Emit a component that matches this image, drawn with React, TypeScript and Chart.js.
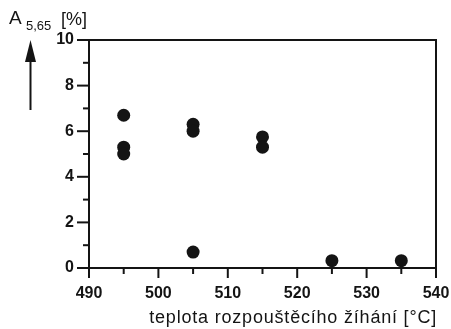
import React, { useEffect, useRef } from "react";
import { Chart, registerables } from "chart.js";

Chart.register(...registerables);

// Solution-annealing temperature [°C]
const temperatures = [495, 495, 495, 505, 505, 505, 515, 515, 525, 535];
// Elongation A5,65 [%]
const elongation = [6.7, 5.3, 5.0, 6.3, 6.0, 0.7, 5.75, 5.3, 0.32, 0.32];

const xTickValues = [490, 500, 510, 520, 530, 540];
const yTickValues = [0, 2, 4, 6, 8, 10];

const FONT = "'Liberation Sans', Arial, Helvetica, sans-serif";
const INK = "#141414";

const framePlugin = {
  id: "frame",
  afterDraw(chart: any) {
    const { ctx, chartArea, scales } = chart;
    const { left, right, top, bottom } = chartArea;
    const xs = scales.x;
    const ys = scales.y;
    ctx.save();
    ctx.strokeStyle = INK;
    ctx.lineWidth = 2;
    ctx.lineCap = "square";
    // box
    ctx.beginPath();
    ctx.moveTo(left, top);
    ctx.lineTo(right, top);
    ctx.lineTo(right, bottom);
    ctx.lineTo(left, bottom);
    ctx.closePath();
    ctx.stroke();
    // y ticks: major every 2, minor every 1
    ctx.lineCap = "butt";
    for (let v = ys.min; v <= ys.max; v += 1) {
      const y = ys.getPixelForValue(v);
      const len = v % 2 === 0 ? 12 : 6;
      ctx.beginPath();
      ctx.moveTo(left - len, y);
      ctx.lineTo(left, y);
      ctx.stroke();
    }
    // x ticks: major every 10, minor every 5
    for (let v = xs.min; v <= xs.max; v += 5) {
      const x = xs.getPixelForValue(v);
      const len = v % 10 === 0 ? 10 : 6;
      ctx.beginPath();
      ctx.moveTo(x, bottom);
      ctx.lineTo(x, bottom + len);
      ctx.stroke();
    }

    // x-axis title, right-aligned with the frame
    ctx.fillStyle = INK;
    ctx.font = `18px ${FONT}`;
    (ctx as any).letterSpacing = "0.8px";
    ctx.textAlign = "right";
    ctx.textBaseline = "alphabetic";
    ctx.fillText("teplota rozpouštěcího žíhání [°C]", right + 1, 323);
    (ctx as any).letterSpacing = "0px";

    // y-axis title: A with subscript 5,65 and unit
    ctx.textAlign = "left";
    ctx.font = `19px ${FONT}`;
    ctx.fillText("A", 9, 24);
    ctx.font = `13px ${FONT}`;
    ctx.fillText("5,65", 26, 30);
    ctx.font = `18px ${FONT}`;
    ctx.fillText("[%]", 61, 25);

    // upward arrow
    ctx.lineWidth = 2;
    ctx.beginPath();
    ctx.moveTo(30.5, 110);
    ctx.lineTo(30.5, 58);
    ctx.stroke();
    ctx.beginPath();
    ctx.moveTo(30.5, 40);
    ctx.lineTo(36, 62);
    ctx.lineTo(25, 62);
    ctx.closePath();
    ctx.fill();
    ctx.restore();
  },
};

const whiteBg = {
  id: "whiteBg",
  beforeDraw(chart: any) {
    const { ctx, width, height } = chart;
    ctx.save();
    ctx.fillStyle = "#ffffff";
    ctx.fillRect(0, 0, width, height);
    ctx.restore();
  },
};

export default function App() {
  const canvasRef = useRef<HTMLCanvasElement | null>(null);

  useEffect(() => {
    if (!canvasRef.current) return;
    const points = temperatures.map((t, i) => ({ x: t, y: elongation[i] }));
    const chart = new Chart(canvasRef.current, {
      type: "scatter",
      data: {
        datasets: [
          {
            data: points,
            pointRadius: 6.5,
            pointHoverRadius: 6.5,
            backgroundColor: INK,
            borderWidth: 0,
          },
        ],
      },
      options: {
        animation: false,
        responsive: false,
        events: [],
        layout: { padding: { left: 0, top: 40, right: 15, bottom: 0 } },
        plugins: { legend: { display: false }, tooltip: { enabled: false } },
        scales: {
          x: {
            type: "linear",
            min: 490,
            max: 540,
            afterBuildTicks: (scale: any) => {
              scale.ticks = xTickValues.map((v) => ({ value: v }));
            },
            afterFit: (scale: any) => {
              scale.height = 61;
              scale.paddingLeft = 0;
              scale.paddingRight = 0;
            },
            grid: { display: false, drawTicks: false },
            border: { display: false },
            ticks: {
              padding: 16,
              color: INK,
              font: { family: FONT, size: 16, weight: "bold" },
              maxRotation: 0,
            },
          },
          y: {
            type: "linear",
            min: 0,
            max: 10,
            afterBuildTicks: (scale: any) => {
              scale.ticks = yTickValues.map((v) => ({ value: v }));
            },
            afterFit: (scale: any) => {
              scale.width = 89;
              scale.paddingTop = 0;
              scale.paddingBottom = 0;
            },
            grid: { display: false, drawTicks: false },
            border: { display: false },
            ticks: {
              padding: 15,
              color: INK,
              font: { family: FONT, size: 16, weight: "bold" },
            },
          },
        },
      },
      plugins: [whiteBg, framePlugin],
    });
    return () => chart.destroy();
  }, []);

  return (
    <div style={{ position: "fixed", left: 0, top: 0, width: 451, height: 329 }}>
      <canvas ref={canvasRef} width={451} height={329} />
    </div>
  );
}
